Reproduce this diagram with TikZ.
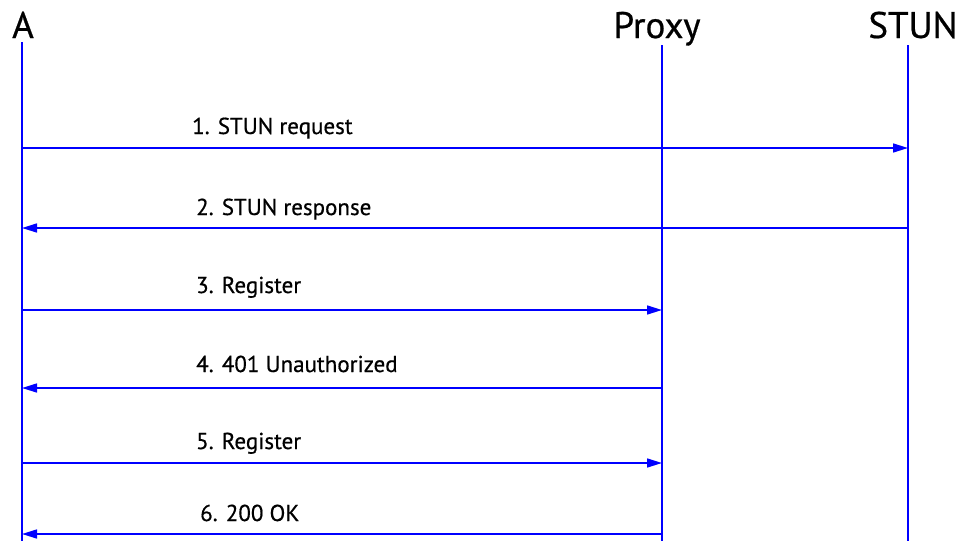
\documentclass[tikz,border=0pt]{standalone}
\usepackage{fontspec}
\setmainfont{PT Sans}[FakeBold=0.6]
\usetikzlibrary{arrows.meta}
\definecolor{lineblue}{RGB}{0,0,255}
\begin{document}
\begin{tikzpicture}[x=1pt,y=-1pt,
  life/.style={draw=lineblue,line width=1.6pt},
  msg/.style={draw=lineblue,line width=1.6pt,-{Triangle[length=15pt,width=9pt]}},
  head/.style={font=\fontsize{37}{40}\selectfont,inner sep=0pt},
  lbl/.style={font=\fontsize{23}{26}\selectfont,inner sep=0pt,anchor=base west}]
\useasboundingbox (0,0) rectangle (962,541);
\node[head,anchor=base] (hA) at (23,38) {A};
\node[head,anchor=base] (hP) at (657,38) {Proxy};
\node[head,anchor=base] (hS) at (913,38) {STUN};
\coordinate (At) at (22,42); \coordinate (Ab) at (22,541);
\coordinate (Pt) at (662,45); \coordinate (Pb) at (662,541);
\coordinate (St) at (908,45); \coordinate (Sb) at (908,541);
\draw[life] (At) -- (Ab);
\draw[life] (Pt) -- (Pb);
\draw[life] (St) -- (Sb);
% messages
\coordinate (A1) at (22,148); \coordinate (S1) at (908,148);
\coordinate (A2) at (22,228); \coordinate (S2) at (908,228);
\coordinate (A3) at (22,310); \coordinate (P3) at (662,310);
\coordinate (A4) at (22,388); \coordinate (P4) at (662,388);
\coordinate (A5) at (22,463); \coordinate (P5) at (662,463);
\coordinate (A6) at (22,534); \coordinate (P6) at (662,534);
\draw[msg] (A1) -- (S1);
\draw[msg] (S2) -- (A2);
\draw[msg] (A3) -- (P3);
\draw[msg] (P4) -- (A4);
\draw[msg] (A5) -- (P5);
\draw[msg] (P6) -- (A6);
\node[lbl] (l1) at (192,134) {1. STUN request};
\node[lbl] (l2) at (196,215) {2. STUN response};
\node[lbl] (l3) at (196,293) {3. Register};
\node[lbl] (l4) at (196,372) {4. 401 Unauthorized};
\node[lbl] (l5) at (196,449) {5. Register};
\node[lbl] (l6) at (200,521) {6. 200 OK};
\end{tikzpicture}
\end{document}
